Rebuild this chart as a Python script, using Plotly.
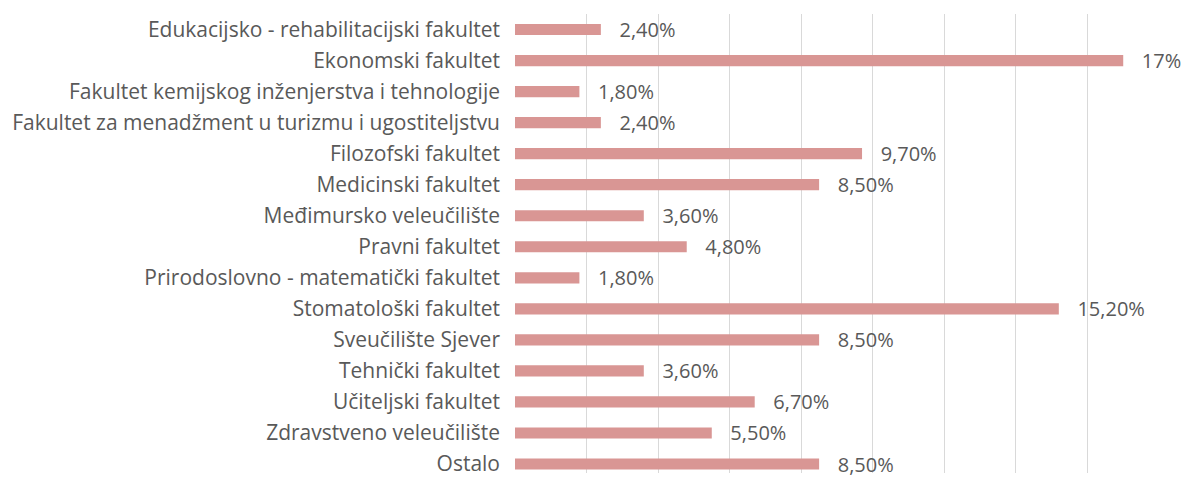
import plotly.graph_objects as go

categories = [
    "Edukacijsko - rehabilitacijski fakultet",
    "Ekonomski fakultet",
    "Fakultet kemijskog inženjerstva i tehnologije",
    "Fakultet za menadžment u turizmu i ugostiteljstvu",
    "Filozofski fakultet",
    "Medicinski fakultet",
    "Međimursko veleučilište",
    "Pravni fakultet",
    "Prirodoslovno - matematički fakultet",
    "Stomatološki fakultet",
    "Sveučilište Sjever",
    "Tehnički fakultet",
    "Učiteljski fakultet",
    "Zdravstveno veleučilište",
    "Ostalo",
]
values = [2.4, 17, 1.8, 2.4, 9.7, 8.5, 3.6, 4.8, 1.8, 15.2, 8.5, 3.6, 6.7, 5.5, 8.5]
value_labels = ["2,40%", "17%", "1,80%", "2,40%", "9,70%", "8,50%", "3,60%", "4,80%",
                "1,80%", "15,20%", "8,50%", "3,60%", "6,70%", "5,50%", "8,50%"]

FONT = "Open Sans"
GREY = "#595959"

fig = go.Figure(go.Bar(
    x=values,
    y=categories,
    orientation="h",
    width=0.36,
    marker=dict(color="#D99694", line=dict(width=0)),
    text=["   " + t for t in value_labels],
    textposition="outside",
    constraintext="none",
    textfont=dict(family=FONT, size=20, color=GREY),
    cliponaxis=False,
    hoverinfo="skip",
))

fig.update_layout(
    width=1184,
    height=477,
    margin=dict(l=515, r=25, t=14, b=0),
    paper_bgcolor="white",
    plot_bgcolor="white",
    showlegend=False,
    font=dict(family=FONT, size=21, color=GREY),
    xaxis=dict(
        range=[0, 18],
        dtick=2,
        tick0=0,
        showgrid=True,
        gridcolor="#D9D9D9",
        gridwidth=1,
        showticklabels=False,
        zeroline=False,
        showline=False,
        fixedrange=True,
    ),
    yaxis=dict(
        type="category",
        categoryorder="array",
        categoryarray=categories,
        range=[14.29, -0.5],
        showgrid=False,
        zeroline=False,
        showline=False,
        ticks="",
        ticklabelstandoff=14,
        tickfont=dict(family=FONT, size=21, color=GREY),
        fixedrange=True,
    ),
)

fig.write_html("out.html")
